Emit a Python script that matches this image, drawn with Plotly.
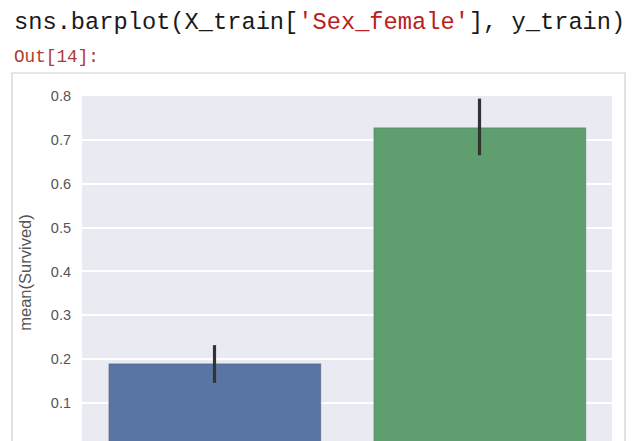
import plotly.graph_objects as go

# -- data
categories = ["0", "1"]              # Sex_female
survived_mean = [0.188, 0.727]
ci_upper = [0.232, 0.794]
ci_lower = [0.146, 0.665]
bar_colors = ["#5975A4", "#5F9E6E"]

err_plus = [u - m for u, m in zip(ci_upper, survived_mean)]
err_minus = [m - l for m, l in zip(survived_mean, ci_lower)]

# page body has an 8px margin, so positions below are in figure pixels
L, R, T, H = 74, 604, 88, 441
PW, PH = R - L, H - T


def px(x):
    return (x - L) / PW


def py(y):
    return (H - y) / PH


fig = go.Figure()
fig.add_trace(go.Bar(
    x=categories,
    y=survived_mean,
    width=0.8,
    marker=dict(color=bar_colors, line=dict(color="#4a4a4a", width=0.3)),
    error_y=dict(type="data", symmetric=False, array=err_plus, arrayminus=err_minus,
                 color="#333333", thickness=3.2, width=0),
    showlegend=False,
))

# notebook cell text
code_html = ("<span style='color:#1a1a1a'>sns.barplot(X_train[</span>"
             "<span style='color:#BA2121'>'Sex_female'</span>"
             "<span style='color:#1a1a1a'>], y_train)</span>")
fig.add_annotation(x=px(4), y=py(14), xref="paper", yref="paper",
                   xanchor="left", yanchor="middle", showarrow=False, text=code_html,
                   font=dict(family="Liberation Mono", size=23.7, color="#1a1a1a"))
fig.add_annotation(x=px(4), y=py(49), xref="paper", yref="paper",
                   xanchor="left", yanchor="middle", showarrow=False, text="Out[14]:",
                   font=dict(family="Liberation Mono", size=17.7, color="#B03A30"))

# output box frame (outline only, page is white)
fig.add_shape(type="rect", xref="paper", yref="paper", layer="below",
              x0=px(4), x1=px(617), y0=-0.2, y1=py(65),
              line=dict(color="#CFCFCF", width=1.2), fillcolor="rgba(0,0,0,0)")

fig.update_layout(
    width=640, height=441,
    margin=dict(l=L, r=640 - R, t=T, b=0, autoexpand=False),
    paper_bgcolor="white",
    plot_bgcolor="#EAEAF2",
    bargap=0,
    font=dict(family="Liberation Sans", color="#555555"),
)
fig.update_xaxes(type="category", range=[-0.5, 1.5], showgrid=False, zeroline=False,
                 showticklabels=False, ticks="", automargin=False)
fig.update_yaxes(range=[0.8 - PH / 438.6, 0.8], dtick=0.1, tick0=0, tickformat=".1f",
                 showgrid=True, gridcolor="white", gridwidth=1.5, zeroline=False,
                 ticks="", ticklabelstandoff=10, tickfont=dict(size=14.5, color="#555555"),
                 automargin=False,
                 title=dict(text="mean(Survived)", font=dict(size=16.5, color="#555555"), standoff=15))

fig.write_html("out.html")
